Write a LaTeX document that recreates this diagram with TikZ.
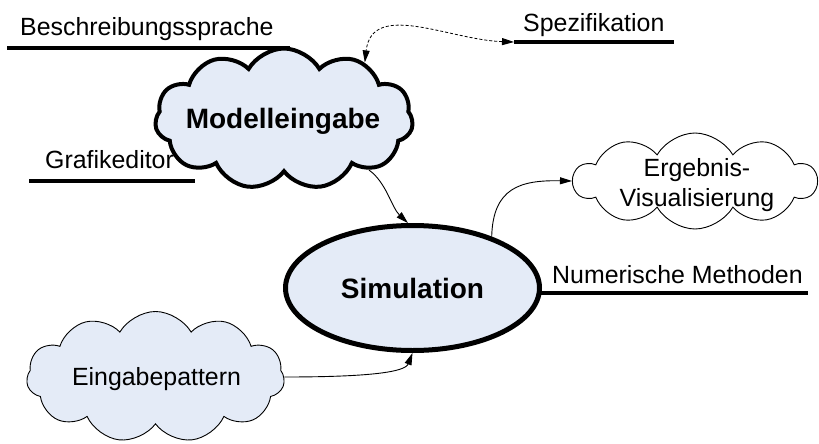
\documentclass[tikz,border=0pt]{standalone}
\usepackage{fontspec}
\setmainfont{Liberation Sans}
\usetikzlibrary{shapes.symbols,shapes.geometric,arrows.meta}
\definecolor{paleblue}{RGB}{228,235,247}

\begin{document}
\begin{tikzpicture}[x=1pt,y=-1pt,
  txt/.style={inner sep=0pt, font=\fontsize{24.9}{30}\selectfont},
  boldtxt/.style={inner sep=0pt, font=\fontsize{28}{34}\selectfont\bfseries},
  bar/.style={line width=4pt},
  bigcloud/.style={cloud, cloud ignores aspect, draw, inner sep=0pt, cloud puff arc=120},
  flow/.style={line width=0.9pt, -{Triangle[length=12pt,width=7pt]}},
  link/.style={line width=0.8pt, dash pattern=on 3pt off 2pt,
    {Triangle[length=12pt,width=7pt]}-{Triangle[length=12pt,width=7pt]}}
]
\useasboundingbox (0,0) rectangle (819,444);

% labelled bars
\node[txt, anchor=base west] (lbeschr) at (20,36) {Beschreibungssprache};
\coordinate (beschrA) at (7,48);
\coordinate (beschrB) at (290,48);
\draw[bar] (beschrA) -- (beschrB);

\node[txt, anchor=base west] (lgrafik) at (45,168) {Grafikeditor};
\coordinate (grafikA) at (29,181);
\coordinate (grafikB) at (195,181);
\draw[bar] (grafikA) -- (grafikB);

\node[txt, anchor=base west] (lspez) at (523,32) {Spezifikation};
\coordinate (spezA) at (514,42);
\coordinate (spezB) at (674,42);
\draw[bar] (spezA) -- (spezB);

\node[txt, anchor=base west] (lnum) at (552,283) {Numerische Methoden};
\coordinate (numA) at (540,293);
\coordinate (numB) at (808,293);
\draw[bar] (numA) -- (numB);

% main shapes
\node[bigcloud, cloud puffs=11, line width=4pt, fill=paleblue,
      minimum width=258pt, minimum height=141pt] (model) at (284,119) {};
\node[boldtxt, anchor=base] (modeltxt) at (283,128) {Modelleingabe};

\node[ellipse, draw, line width=5pt, fill=paleblue, inner sep=0pt,
      minimum width=254pt, minimum height=125pt, font=\fontsize{28}{34}\selectfont\bfseries]
      (sim) at (412.5,288) {Simulation};

\node[bigcloud, cloud puffs=10, line width=0.9pt, fill=white,
      minimum width=243pt, minimum height=96pt] (erg) at (695,181) {};
\node[txt, align=center] (ergtxt) at (697,185.5) {Ergebnis-\\Visualisierung};

\node[bigcloud, cloud puffs=11, line width=0.9pt, fill=paleblue,
      minimum width=258pt, minimum height=131pt] (eing) at (155.5,377) {};
\node[txt, anchor=base] (eingtxt) at (156.5,385) {Eingabepattern};

% connectors
\draw[link] (spezA) .. controls (450,40) and (372,0) .. (model.35);
\draw[flow] (model.-31) .. controls (386,182) and (392,208) .. (sim.94);
\draw[flow] (sim.33) .. controls (493,188) and (520,180) .. (erg.west);
\draw[flow] (eing.east) .. controls (370,377) and (405,372) .. (sim.south);
\end{tikzpicture}
\end{document}
